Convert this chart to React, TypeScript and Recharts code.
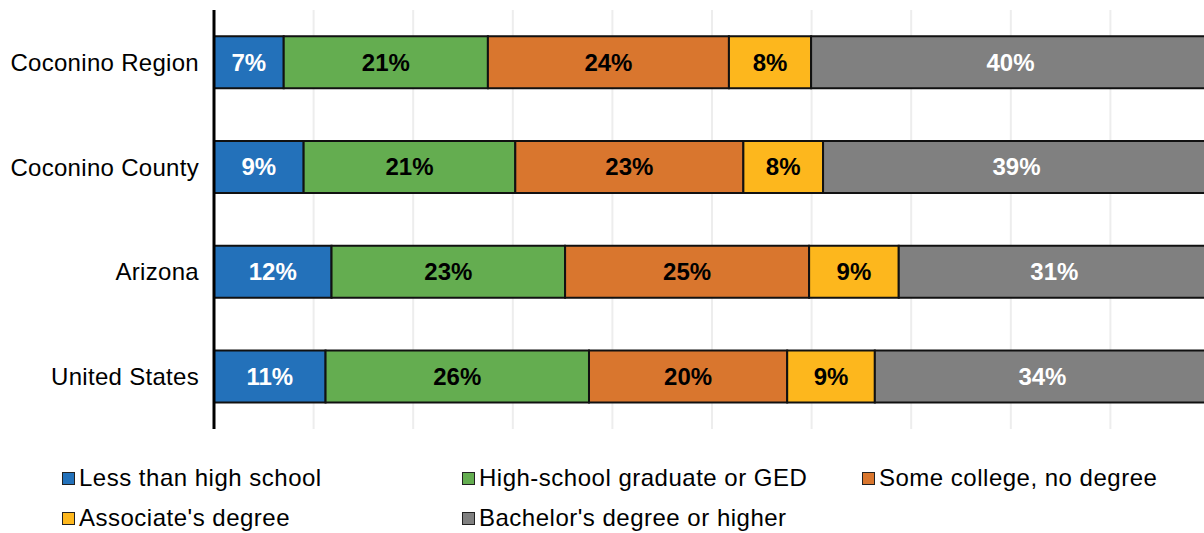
import React from 'react';
import { BarChart, Bar, XAxis, YAxis, CartesianGrid, LabelList } from 'recharts';

// share of adults 25+ by educational attainment (%)
const categories = ['Coconino Region', 'Coconino County', 'Arizona', 'United States'];
const lessThanHighSchool = [7.0, 9.0, 11.8, 11.2];
const highSchoolGrad = [20.5, 21.25, 23.45, 26.45];
const someCollege = [24.2, 22.9, 24.5, 19.9];
const associates = [8.25, 8.0, 9.0, 8.8];
const bachelors = [40.05, 38.85, 31.25, 33.65];

const xTicks = [0, 10, 20, 30, 40, 50, 60, 70, 80, 90, 100];

const series = [
    { key: 'lessHs', name: 'Less than high school', values: lessThanHighSchool, color: '#2371BA', text: '#ffffff' },
    { key: 'hsGrad', name: 'High-school graduate or GED', values: highSchoolGrad, color: '#64AD50', text: '#000000' },
    { key: 'someCol', name: 'Some college, no degree', values: someCollege, color: '#D9762E', text: '#000000' },
    { key: 'assoc', name: "Associate's degree", values: associates, color: '#FDB71D', text: '#000000' },
    { key: 'bach', name: "Bachelor's degree or higher", values: bachelors, color: '#808080', text: '#ffffff' },
];

const data = categories.map((name, i) => {
    const row: Record<string, string | number> = { name };
    series.forEach((s) => {
        row[s.key] = s.values[i];
    });
    return row;
});

const FONT = '"Liberation Sans", Arial, sans-serif';

const LegendBlock = () => (
    <div
        style={{
            position: 'absolute',
            left: 62,
            top: 458,
            display: 'grid',
            gridTemplateColumns: '400px 400px 400px',
        }}
    >
        {series.map((s) => (
            <div key={s.key} style={{ display: 'flex', alignItems: 'center', height: 40 }}>
                <span
                    style={{
                        display: 'inline-block',
                        width: 11,
                        height: 11,
                        background: s.color,
                        border: '1.5px solid #222',
                        marginRight: 4,
                    }}
                />
                <span style={{ fontSize: 24, letterSpacing: 0.5, color: '#000', whiteSpace: 'nowrap' }}>{s.name}</span>
            </div>
        ))}
    </div>
);

export default function App() {
    return (
        <div
            style={{
                position: 'fixed',
                left: 0,
                top: 0,
                width: 1204,
                height: 533,
                overflow: 'hidden',
                background: '#fff',
                fontFamily: FONT,
            }}
        >
            <BarChart
                width={1220}
                height={533}
                data={data}
                layout="vertical"
                margin={{ top: 10, right: 10, left: 0, bottom: 104 }}
                barCategoryGap="25%"
            >
                <CartesianGrid horizontal={false} stroke="#EDEDED" strokeWidth={2} />
                <XAxis
                    type="number"
                    domain={[0, 100]}
                    ticks={xTicks}
                    interval={0}
                    tick={{ fill: 'transparent', fontSize: 1 }}
                    axisLine={false}
                    tickLine={false}
                    height={0}
                />
                <YAxis
                    type="category"
                    dataKey="name"
                    width={214}
                    axisLine={{ stroke: '#000', strokeWidth: 3 }}
                    tickLine={false}
                    tickSize={0}
                    tickMargin={15}
                    tick={{ fill: '#000', fontSize: 24, letterSpacing: 0.3, fontFamily: FONT }}
                />
                {series.map((s) => (
                    <Bar
                        key={s.key}
                        dataKey={s.key}
                        name={s.name}
                        stackId="edu"
                        fill={s.color}
                        stroke="#111"
                        strokeWidth={2}
                        isAnimationActive={false}
                    >
                        <LabelList
                            dataKey={s.key}
                            position="center"
                            fill={s.text}
                            fontSize={24}
                            fontWeight="bold"
                            fontFamily={FONT}
                            formatter={(v: any) => `${Math.round(Number(v))}%`}
                        />
                    </Bar>
                ))}
            </BarChart>
            <LegendBlock />
        </div>
    );
}
